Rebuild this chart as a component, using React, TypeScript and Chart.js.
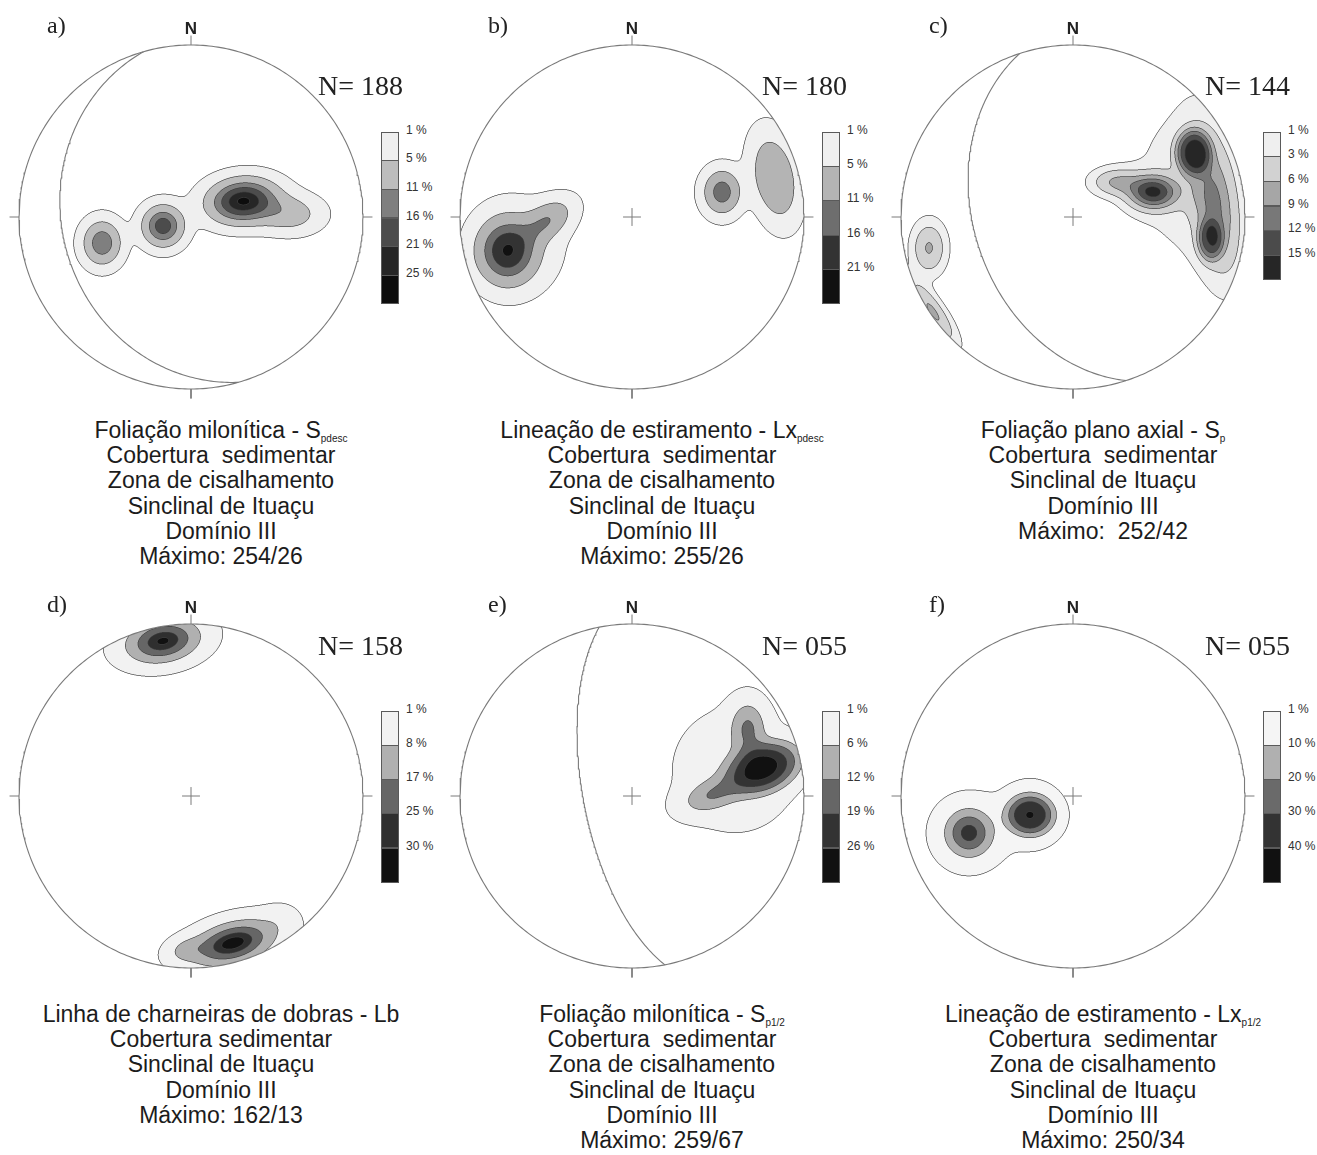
import React, { useEffect, useRef } from 'react';
import { Chart, registerables } from 'chart.js';

Chart.register(...registerables);

// ---------------- data ----------------
const PANEL_IDS = ['a', 'b', 'c', 'd', 'e', 'f'];
const SAMPLE_COUNTS = ['188', '180', '144', '158', '055', '055'];
const MAX_DIP_DIRECTION = [254, 255, 252, 162, 259, 250];
const MAX_DIP = [26, 26, 42, 13, 67, 34];
const SHOW_GREAT_CIRCLE = [true, false, true, false, true, false];

// contour levels (%)
const LEVELS_A = [1, 5, 11, 16, 21, 25];
const LEVELS_B = [1, 5, 11, 16, 21];
const LEVELS_C = [1, 3, 6, 9, 12, 15];
const LEVELS_D = [1, 8, 17, 25, 30];
const LEVELS_E = [1, 6, 12, 19, 26];
const LEVELS_F = [1, 10, 20, 30, 40];

// fill shades for each level
const SHADES_A = ['#efefef', '#bdbdbd', '#7f7f7f', '#4c4c4c', '#262626', '#0d0d0d'];
const SHADES_B = ['#f0f0f0', '#b4b4b4', '#6e6e6e', '#333333', '#111111'];
const SHADES_C = ['#efefef', '#d2d2d2', '#a6a6a6', '#787878', '#4b4b4b', '#262626'];
const SHADES_D = ['#f2f2f2', '#b0b0b0', '#666666', '#2f2f2f', '#111111'];
const SHADES_E = ['#f2f2f2', '#b0b0b0', '#666666', '#333333', '#111111'];
const SHADES_F = ['#f5f5f5', '#b0b0b0', '#6a6a6a', '#333333', '#111111'];

// density maxima read from the nets: [x, y, spreadX, spreadY, rotation°, peak %, flatness]
// (x east, y north, net radius = 100)
const KERNELS_A = [
  [30.2, 9.3, 12.8, 8.1, 5, 25.6, 1],
  [57.6, 1.7, 11.6, 7.0, 0, 8, 1],
  [-16.3, -5.2, 7.6, 7.6, 0, 19, 1],
  [-51.7, -15.1, 7.1, 8.3, 0, 15, 1],
];
const KERNELS_B = [
  [-72.7, -19.8, 11.0, 12.2, 0, 19.3, 1],
  [-48.8, -1.7, 10.5, 6.4, 35, 9.5, 1],
  [-65.1, -16.3, 18, 18, 0, 2.5, 1],
  [52.3, 14.5, 7.0, 8.4, 0, 14, 1],
  [83.0, 22.7, 19, 9.5, -79, 9.5, 1.2],
];
const KERNELS_C = [
  [46.5, 14.5, 9.3, 6.4, 0, 15, 1],
  [25.0, 20.3, 9.3, 5.2, 0, 6, 1],
  [69.8, 37.8, 8.1, 10.5, 0, 13, 1.6],
  [79.7, -13.4, 5.8, 9.3, 0, 9.5, 1.5],
  [82.0, 7.0, 8.5, 26.2, 8.6, 8.5, 1],
  [68.0, 21.5, 23, 32, 0, 2, 1],
  [-83.7, -18.0, 6.4, 9.9, 0, 6.3, 1],
  [-81.4, -55.2, 14, 4.1, 125, 6.5, 1],
];
const KERNELS_D = [
  [-16.3, 90.1, 13.4, 7.6, 10, 31, 1],
  [24.4, -85.5, 15.1, 7.3, 15, 33, 1],
  [-3.5, -89.5, 7, 4.5, 15, 8, 1],
  [52, -72, 7, 6, 0, 2.5, 1],
];
const KERNELS_E = [
  [76.2, 16.3, 15.1, 9.5, 20, 27, 1.3],
  [67.4, 39.5, 6.5, 10, 0, 11.5, 1],
  [46.5, 0.6, 11.6, 5.8, 20, 10, 1],
  [59.9, 15.1, 23, 23, 0, 3.5, 1],
];
const KERNELS_F = [
  [-25.0, -11.0, 10.7, 9.1, 0, 35.7, 1.5],
  [-60.5, -21.5, 8.7, 8.7, 0, 29.5, 1],
  [-25.0, -11.0, 12, 12, 0, 4.5, 1],
  [-60.5, -21.5, 12, 12, 0, 4.5, 1],
];

// captions: [text, subscript]
const CAPTION_A = [['Foliação milonítica - S', 'pdesc'], ['Cobertura  sedimentar'], ['Zona de cisalhamento'], ['Sinclinal de Ituaçu'], ['Domínio III'], ['Máximo: 254/26']];
const CAPTION_B = [['Lineação de estiramento - Lx', 'pdesc'], ['Cobertura  sedimentar'], ['Zona de cisalhamento'], ['Sinclinal de Ituaçu'], ['Domínio III'], ['Máximo: 255/26']];
const CAPTION_C = [['Foliação plano axial - S', 'p'], ['Cobertura  sedimentar'], ['Sinclinal de Ituaçu'], ['Domínio III'], ['Máximo:  252/42']];
const CAPTION_D = [['Linha de charneiras de dobras - Lb'], ['Cobertura sedimentar'], ['Sinclinal de Ituaçu'], ['Domínio III'], ['Máximo: 162/13']];
const CAPTION_E = [['Foliação milonítica - S', 'p1/2'], ['Cobertura  sedimentar'], ['Zona de cisalhamento'], ['Sinclinal de Ituaçu'], ['Domínio III'], ['Máximo: 259/67']];
const CAPTION_F = [['Lineação de estiramento - Lx', 'p1/2'], ['Cobertura  sedimentar'], ['Zona de cisalhamento'], ['Sinclinal de Ituaçu'], ['Domínio III'], ['Máximo: 250/34']];

const LEVELS = [LEVELS_A, LEVELS_B, LEVELS_C, LEVELS_D, LEVELS_E, LEVELS_F];
const SHADES = [SHADES_A, SHADES_B, SHADES_C, SHADES_D, SHADES_E, SHADES_F];
const KERNELS = [KERNELS_A, KERNELS_B, KERNELS_C, KERNELS_D, KERNELS_E, KERNELS_F];
const CAPTIONS = [CAPTION_A, CAPTION_B, CAPTION_C, CAPTION_D, CAPTION_E, CAPTION_F];

// ---------------- layout ----------------
const COL_X = [191, 632, 1073];
const ROW_Y = [217, 796];
const R_PX = 172;
const HALF = 186;
const EXT = (HALF / R_PX) * 100;
const LEGEND_BOX_H = [28.6, 34.3, 24.6, 34.2, 34.2, 34.2];
const COUNT_LEFT = [127, 130, 132];
const COUNT_BASE = [-122, -141];
const CAPTION_BASE = [438, 1022];
const CAPTION_STEP = 25.35;

const SANS = "'Liberation Sans', Arial, Helvetica, sans-serif";
const SERIF = "'Liberation Serif', 'Times New Roman', Times, serif";
const LINE_GRAY = '#7a7a7a';

function hexRgb(h: string) {
  const n = parseInt(h.slice(1), 16);
  return [(n >> 16) & 255, (n >> 8) & 255, n & 255];
}

function greatCircle(dd: number, dip: number) {
  const toR = Math.PI / 180;
  const st = (dd - 90) * toR;
  const s = [Math.sin(st), Math.cos(st), 0];
  const d = [Math.sin(dd * toR) * Math.cos(dip * toR), Math.cos(dd * toR) * Math.cos(dip * toR), -Math.sin(dip * toR)];
  const pts: { x: number; y: number }[] = [];
  for (let t = 0; t <= 180; t += 1) {
    const c = Math.cos(t * toR), sn = Math.sin(t * toR);
    const e = c * s[0] + sn * d[0], n = c * s[1] + sn * d[1], u = c * s[2] + sn * d[2];
    const h = Math.hypot(e, n);
    const r = Math.sqrt(Math.max(0, 1 + u));
    pts.push({ x: (100 * r * e) / h, y: (100 * r * n) / h });
  }
  return pts;
}

function primitive() {
  const pts: { x: number; y: number }[] = [];
  for (let a = 0; a <= 360; a += 1) {
    const t = (a * Math.PI) / 180;
    pts.push({ x: 100 * Math.cos(t), y: 100 * Math.sin(t) });
  }
  return pts;
}

function paintDensity(chart: any, kernels: number[][], levels: number[], shades: string[]) {
  const xs = chart.scales.x, ys = chart.scales.y;
  const ctx = chart.ctx;
  const left = Math.floor(xs.getPixelForValue(-100)) - 1;
  const right = Math.ceil(xs.getPixelForValue(100)) + 1;
  const top = Math.floor(ys.getPixelForValue(100)) - 1;
  const bottom = Math.ceil(ys.getPixelForValue(-100)) + 1;
  const w = right - left, h = bottom - top;
  const SS = 3, W = w * SS, H = h * SS;
  const pre = kernels.map(([kx, ky, sx, sy, ang, amp, p]) => {
    const a = (ang * Math.PI) / 180;
    return { kx, ky, sx, sy, c: Math.cos(a), s: Math.sin(a), amp, p };
  });
  const lev = new Int8Array(W * H);
  for (let j = 0; j < H; j++) {
    const vy = ys.getValueForPixel(top + (j + 0.5) / SS);
    for (let i = 0; i < W; i++) {
      const vx = xs.getValueForPixel(left + (i + 0.5) / SS);
      if (vx * vx + vy * vy > 10000) { lev[j * W + i] = -1; continue; }
      let f = 0;
      for (let k = 0; k < pre.length; k++) {
        const K = pre[k];
        const dx = vx - K.kx, dy = vy - K.ky;
        const u = (dx * K.c + dy * K.s) / K.sx;
        const v = (-dx * K.s + dy * K.c) / K.sy;
        const q = u * u + v * v;
        f += K.amp * Math.exp(-0.5 * (K.p === 1 ? q : Math.pow(q, K.p)));
      }
      let L = 0;
      while (L < levels.length && f >= levels[L]) L++;
      lev[j * W + i] = L;
    }
  }
  const img = ctx.getImageData(left, top, w, h);
  const data = img.data;
  const fills = shades.map(hexRgb);
  const line = [60, 60, 60];
  const n = SS * SS;
  for (let py = 0; py < h; py++) {
    for (let px = 0; px < w; px++) {
      const o = (py * w + px) * 4;
      const base = [data[o], data[o + 1], data[o + 2]];
      let r = 0, g = 0, b = 0;
      for (let sj = 0; sj < SS; sj++) {
        for (let si = 0; si < SS; si++) {
          const j = py * SS + sj, i = px * SS + si;
          const L = lev[j * W + i];
          let col = base;
          if (L >= 0) {
            let edge = false;
            const nb = [
              i > 0 ? lev[j * W + i - 1] : -1,
              i < W - 1 ? lev[j * W + i + 1] : -1,
              j > 0 ? lev[(j - 1) * W + i] : -1,
              j < H - 1 ? lev[(j + 1) * W + i] : -1,
            ];
            for (const m of nb) if (m >= 0 && m !== L) edge = true;
            if (edge) col = line;
            else if (L > 0) col = fills[L - 1];
          }
          r += col[0]; g += col[1]; b += col[2];
        }
      }
      data[o] = r / n; data[o + 1] = g / n; data[o + 2] = b / n; data[o + 3] = 255;
    }
  }
  ctx.putImageData(img, left, top);
}

function lineSet(label: string, data: { x: number; y: number }[], order = 0, width = 1.1) {
  return {
    label, data, order, showLine: true, borderColor: LINE_GRAY, borderWidth: width,
    pointRadius: 0, fill: false, tension: 0, clip: false,
  };
}

function buildConfig(idx: number): any {
  const cross = 5.2;
  const tickIn = 100, tickOut = 105.5;
  const datasets: any[] = [
    lineSet('centre cross (horizontal)', [{ x: -cross, y: 0 }, { x: cross, y: 0 }], 11, 1),
    lineSet('centre cross (vertical)', [{ x: 0, y: -cross }, { x: 0, y: cross }], 10, 1),
    lineSet('primitive', primitive(), 0, 1.1),
    lineSet('tick N', [{ x: 0, y: tickIn }, { x: 0, y: tickOut }], 0, 1),
    lineSet('tick S', [{ x: 0, y: -tickIn }, { x: 0, y: -tickOut }], 0, 1),
    lineSet('tick E', [{ x: tickIn, y: 0 }, { x: tickOut, y: 0 }], 0, 1),
    lineSet('tick W', [{ x: -tickIn, y: 0 }, { x: -tickOut, y: 0 }], 0, 1),
  ];
  if (SHOW_GREAT_CIRCLE[idx]) {
    datasets.push(lineSet('great circle of maximum', greatCircle(MAX_DIP_DIRECTION[idx], MAX_DIP[idx]), 0, 1.1));
  }
  const densityPlugin = {
    id: 'stereoDensity',
    beforeDraw(chart: any) {
      const { ctx, width, height } = chart;
      ctx.save();
      ctx.fillStyle = '#ffffff';
      ctx.fillRect(0, 0, width, height);
      ctx.restore();
    },
    afterDatasetDraw(chart: any, args: any) {
      if (chart.data.datasets[args.index].label !== 'centre cross (vertical)') return;
      paintDensity(chart, KERNELS[idx], LEVELS[idx], SHADES[idx]);
    },
  };
  return {
    type: 'scatter',
    data: { datasets },
    options: {
      responsive: false,
      maintainAspectRatio: false,
      animation: false,
      devicePixelRatio: 1,
      events: [],
      layout: { padding: 0 },
      plugins: { legend: { display: false }, tooltip: { enabled: false }, title: { display: false } },
      scales: {
        x: { type: 'linear', min: -EXT, max: EXT, display: false },
        y: { type: 'linear', min: -EXT, max: EXT, display: false },
      },
    },
    plugins: [densityPlugin],
  };
}

function StereoPanel({ idx }: { idx: number }) {
  const ref = useRef<HTMLCanvasElement>(null);
  const col = idx % 3, row = Math.floor(idx / 3);
  const cx = COL_X[col], cy = ROW_Y[row];

  useEffect(() => {
    const canvas = ref.current;
    if (!canvas) return;
    const chart = new Chart(canvas, buildConfig(idx));
    return () => chart.destroy();
  }, [idx]);

  const levels = LEVELS[idx];
  const shades = SHADES[idx];
  const boxH = LEGEND_BOX_H[idx];
  const legTop = cy - 85.3;
  const legLeft = cx + 190;

  return (
    <>
      <canvas
        ref={ref}
        width={HALF * 2}
        height={HALF * 2}
        style={{ position: 'absolute', left: cx - HALF, top: cy - HALF, width: HALF * 2, height: HALF * 2 }}
      />
      <div style={{ position: 'absolute', left: cx - 144, top: cy - 184 - 0.8375 * 24, font: `24px ${SERIF}`, lineHeight: '24px', color: '#222' }}>
        {PANEL_IDS[idx]})
      </div>
      <div style={{ position: 'absolute', left: cx - 20, width: 40, textAlign: 'center', top: cy - 182.5 - 0.8465 * 17, font: `bold 17px ${SANS}`, lineHeight: '17px', color: '#222' }}>
        N
      </div>
      <div style={{ position: 'absolute', left: cx + COUNT_LEFT[col], top: cy + COUNT_BASE[row] - 0.8375 * 28, font: `28px ${SERIF}`, lineHeight: '28px', color: '#222', whiteSpace: 'pre' }}>
        {'N= ' + SAMPLE_COUNTS[idx]}
      </div>
      {shades.map((c, k) => (
        <div
          key={'box' + k}
          style={{
            position: 'absolute', left: legLeft, top: legTop + k * boxH, width: 18, height: boxH + 1,
            background: c, border: '1px solid #5a5a5a', boxSizing: 'border-box',
          }}
        />
      ))}
      {levels.map((v, k) => (
        <div
          key={'lab' + k}
          style={{
            position: 'absolute', left: legLeft + 25, top: legTop + k * boxH - 2 - 5.9,
            font: `12px ${SANS}`, lineHeight: '12px', color: '#333', whiteSpace: 'pre',
          }}
        >
          {v + ' %'}
        </div>
      ))}
      {CAPTIONS[idx].map((ln, k) => (
        <div
          key={'cap' + k}
          style={{
            position: 'absolute', left: cx + 30 - 230, width: 460, textAlign: 'center',
            top: CAPTION_BASE[row] + k * CAPTION_STEP - 0.8465 * 23,
            font: `23px ${SANS}`, lineHeight: '23px', color: '#1c1c1c', whiteSpace: 'pre',
          }}
        >
          {ln[0]}
          {ln[1] ? <span style={{ fontSize: 10, lineHeight: '10px', position: 'relative', top: 4 }}>{ln[1]}</span> : null}
        </div>
      ))}
    </>
  );
}

export default function App() {
  return (
    <div style={{ position: 'absolute', left: 0, top: 0, width: 1317, height: 1155, background: '#ffffff', overflow: 'hidden' }}>
      {PANEL_IDS.map((_, i) => (
        <StereoPanel key={i} idx={i} />
      ))}
    </div>
  );
}
